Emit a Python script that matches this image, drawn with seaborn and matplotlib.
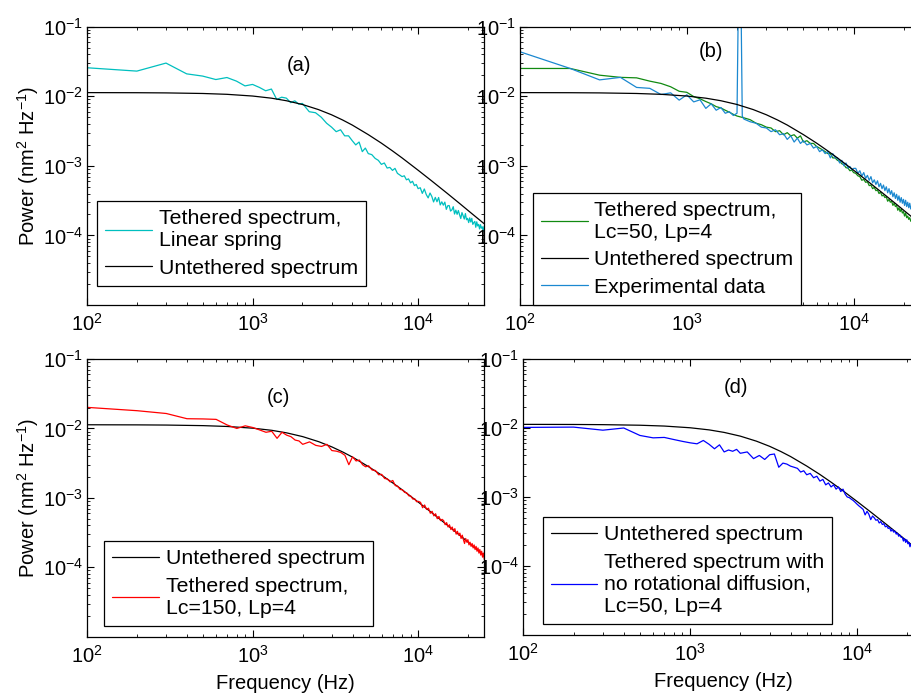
import matplotlib
matplotlib.use("Agg")
import matplotlib.pyplot as plt
import seaborn as sns
from matplotlib.ticker import LogLocator, NullFormatter

# ---------------- data ----------------
FREQ = [100, 200, 300, 400, 500, 600, 700, 800, 900, 1000,
        1100, 1200, 1300, 1400, 1500, 1600, 1700, 1800, 1900, 2000,
        2200, 2400, 2600, 2800, 3000, 3200, 3400, 3600, 3800, 4000,
        4200, 4400, 4600, 4800, 5000,
        5250, 5500, 5750, 6000, 6250, 6500, 6750, 7000, 7250, 7500,
        7750, 8000, 8250, 8500, 8750, 9000, 9250, 9500, 9750, 10000,
        10300, 10600, 10900, 11200, 11500, 11800, 12100, 12400, 12700, 13000,
        13300, 13600, 13900, 14200, 14500, 14800, 15100, 15400, 15700, 16000,
        16300, 16600, 16900, 17200, 17500, 17800, 18100, 18400, 18700, 19000,
        19300, 19600, 19900, 20200, 20500, 20800, 21100, 21400, 21700, 22000,
        22300, 22600, 22900, 23200, 23500, 23800, 24100, 24400, 24700, 25000]

FREQ_UNTETHERED = [100, 200, 300, 500, 700, 1000, 1300, 1600, 2000, 2500, 3000, 3500,
                   4000, 5000, 6000, 7000, 8000, 10000, 12000, 15000, 18000, 21000, 25000]
UNTETHERED = [0.01129, 0.01125, 0.01118, 0.01097, 0.01067, 0.01008, 0.00939, 0.00863,
              0.00762, 0.00644, 0.00542, 0.00456, 0.00386, 0.00281, 0.00212, 0.00164,
              0.00130, 0.000865, 0.000615, 0.000402, 0.000282, 0.000208, 0.000148]

TETHER_LINEAR_A = [
    .0257, .0230, .0300, .0210, .0195, .0174, .0186, .0165, .0141, .0148,
    .0134, .0120, .0127, .0090, .0097, .0094, .0081, .0086, .0077, .0079,
    .0060, .0058, .0050, .0041, .0036, .0031, .0033, .0027, .0027, .0023,
    .0020, .0022, .0016, .0018, .0015,
    .00145, .00128, .00120, .00105, .00110, .00093, .00095, .00086, .00092, .00078,
    .00074, .00070, .00072, .00063, .00065, .00057, .00060, .00052, .00054, .00047,
    .000485, .000402, .000465, .000387, .000346, .000407, .000363, .000303, .000352, .000305,
    .000351, .000274, .000304, .000272, .000301, .000237, .000267, .000269, .000224, .000233,
    .000259, .000203, .000231, .000201, .000228, .000198, .000175, .000213, .000192, .000172,
    .000206, .000168, .000176, .000153, .000179, .000156, .000176, .000144, .000153, .000159,
    .000131, .000157, .000137, .000144, .000124, .000143, .000127, .000133, .000114, .000134]

TETHER_WLC_B = [
    .0251, .0251, .0201, .0187, .0184, .0165, .0153, .0137, .0118, .0114,
    .0099, .0092, .0084, .0078, .0071, .0068, .0063, .0059, .0055, .0052,
    .0049, .0046, .0041, .0039, .0036, .0035, .0031, .0032, .0028, .0030,
    .0027, .0028, .0025, .0027, .0022,
    .0023, .0021, .0021, .0019, .0018, .0017, .0016, .0015, .0015, .0013,
    .0013, .0012, .00117, .00107, .00104, .00094, .00093, .00085, .00087, .00080,
    .00078, .00072, .00070, .00062, .00064, .00058, .00059, .00052, .00053, .00047,
    .00049, .00044, .00045, .00040, .00042, .00037, .00038, .00035, .00036, .00031,
    .00033, .00030, .00031, .00027, .00029, .00026, .00027, .00023, .00025, .00022,
    .00024, .00021, .00022, .00019, .00021, .00018, .00019, .00017, .00018, .00016,
    .00017, .00015, .00016, .00014, .00015, .00014, .00014, .00013, .00014, .00013]

FREQ_EXP = [100, 200, 300, 400, 500, 600, 700, 800, 900, 1000,
            1100, 1200, 1300, 1400, 1500, 1600, 1700, 1800, 1900, 2000,
            2050, 2100, 2150,
            2200, 2400, 2600, 2800, 3000, 3200, 3400, 3600, 3800, 4000,
            4200, 4400, 4600, 4800, 5000,
            5250, 5500, 5750, 6000, 6250, 6500, 6750, 7000, 7250, 7500,
            7750, 8000, 8250, 8500, 8750, 9000, 9250, 9500, 9750, 10000,
            10300, 10600, 10900, 11200, 11500, 11800, 12100, 12400, 12700, 13000,
            13300, 13600, 13900, 14200, 14500, 14800, 15100, 15400, 15700, 16000,
            16300, 16600, 16900, 17200, 17500, 17800, 18100, 18400, 18700, 19000,
            19300, 19600, 19900, 20200, 20500, 20800, 21100, 21400, 21700, 22000,
            22300, 22600, 22900, 23200, 23500, 23800, 24100, 24400, 24700, 25000]
EXPERIMENT_B = [
    .0436, .0251, .0172, .0187, .0134, .0130, .0106, .0112, .0088, .0105,
    .0083, .0089, .0067, .0078, .0063, .0069, .0057, .0060, .0053, .0057,
    .9, .9, .0052,
    .0047, .0043, .0041, .0036, .0035, .0031, .0033, .0028, .0029, .0024,
    .0027, .0022, .0025, .0021, .0023,
    .0020, .0021, .0018, .0019, .0016, .0017, .0015, .0016, .0013, .0015,
    .0013, .0013, .0011, .0012, .0010, .0011, .00093, .00098, .00088, .00092,
    .00092, .00078, .00085, .00071, .00080, .00066, .00073, .00062, .00070, .00057,
    .00063, .00054, .00061, .00050, .00056, .00047, .00053, .00044, .00050, .00041,
    .00047, .00039, .00044, .00036, .00041, .00034, .00039, .00032, .00037, .00030,
    .00035, .00029, .00033, .00027, .00032, .00026, .00030, .00025, .00029, .00024,
    .00027, .00023, .00026, .00022, .00025, .00021, .00024, .00020, .00023, .00019]

TETHER_WLC_C = [
    .0201, .0180, .0164, .0138, .0137, .0135, .0112, .0100, .0109, .0103,
    .0095, .0088, .0091, .0072, .0088, .0080, .0076, .0068, .0066, .0059,
    .0064, .0057, .0055, .0059, .0048, .0047, .0045, .0041, .0030, .0039,
    .0034, .0035, .0030, .0028, .0029,
    .00252, .00248, .00215, .00218, .00190, .00187, .00170, .00178, .00150, .00147,
    .00132, .00131, .00120, .00118, .00107, .00106, .00096, .00097, .00088, .00089,
    .00086, .00072, .00079, .00068, .00071, .00060, .00064, .00055, .00059, .00050,
    .00054, .00047, .00049, .00047, .00041, .00044, .00038, .00041, .00035, .00038,
    .00033, .00036, .00030, .00033, .00029, .00031, .00026, .00029, .00025, .00022,
    .00026, .00023, .00025, .00021, .00023, .00020, .00022, .00019, .00021, .00018,
    .00020, .00017, .00019, .00016, .00018, .00015, .00017, .00014, .00016, .00013]

TETHER_NOROT_D = [
    .0102, .0103, .0093, .0100, .0078, .0072, .0073, .0068, .0064, .0061,
    .0059, .0066, .0058, .0050, .0057, .0045, .0048, .0046, .0049, .0043,
    .0045, .0036, .0040, .0035, .0041, .0042, .0027, .0031, .0030, .0028,
    .0027, .0026, .0023, .0024, .0021,
    .0022, .0019, .0020, .0017, .0018, .0015, .0016, .0014, .0015, .0013,
    .0014, .0012, .0013, .0011, .0010, .00098, .00093, .00089, .00084, .00079,
    .00074, .00070, .00066, .00055, .00062, .00056, .00047, .00053, .00050, .00046,
    .00047, .00042, .00044, .00040, .00041, .00037, .00038, .00035, .00036, .00032,
    .00034, .00031, .00032, .00029, .00030, .00027, .00028, .00026, .00026, .00023,
    .00025, .00022, .00024, .00021, .00022, .00019, .00021, .00018, .00019, .00017,
    .00019, .00016, .00017, .00015, .00016, .00014, .00015, .00014, .00015, .00013]

PANEL_TAGS = ["(a)", "(b)", "(c)", "(d)"]
X_LIMITS = [100, 25000]
Y_LIMITS = [1e-5, 1e-1]

# ---------------- style ----------------
sns.set_theme(style="ticks")
plt.rcParams.update({
    "font.family": ["Liberation Sans", "DejaVu Sans"],
    "mathtext.fontset": "custom",
    "mathtext.rm": "Liberation Sans",
    "mathtext.it": "Liberation Sans:italic",
    "mathtext.bf": "Liberation Sans:bold",
    "axes.unicode_minus": False,
    "font.size": 14,
    "text.color": "black",
    "axes.linewidth": 0.9,
    "axes.edgecolor": "black",
    "axes.labelcolor": "black",
    "xtick.color": "black", "ytick.color": "black",
    "xtick.labelcolor": "black", "ytick.labelcolor": "black",
    "xtick.direction": "in", "ytick.direction": "in",
    "xtick.top": True, "ytick.right": True,
    "xtick.major.size": 5, "ytick.major.size": 5,
    "xtick.minor.size": 2.5, "ytick.minor.size": 2.5,
    "xtick.major.width": 0.8, "ytick.major.width": 0.8,
    "xtick.minor.width": 0.6, "ytick.minor.width": 0.6,
    "xtick.labelsize": 14.5, "ytick.labelsize": 14.5,
    "xtick.major.pad": 6, "ytick.major.pad": 3,
    "legend.labelcolor": "black",
})

C_BLACK = "black"
C_CYAN = "#00bfbf"
C_GREEN = "#118a11"
C_EXP = "#1b88d0"
C_RED = "#ff0000"
C_BLUE = "#0000ff"

fig = plt.figure(figsize=(9.11, 6.96), dpi=100)
W, H = 911.0, 696.0
rects = [
    (87 / W, 1 - 305 / H, 397 / W, 278.3 / H),
    (520 / W, 1 - 305 / H, 400 / W, 278.3 / H),
    (87.3 / W, 1 - 636.7 / H, 397 / W, 277.7 / H),
    (523.3 / W, 1 - 635 / H, 400 / W, 276 / H),
]
axes = [fig.add_axes(r) for r in rects]


def style_axis(ax):
    ax.set_xscale("log")
    ax.set_yscale("log")
    ax.set_xlim(*X_LIMITS)
    ax.set_ylim(*Y_LIMITS)
    ax.set_xticks([1e2, 1e3, 1e4])
    ax.set_yticks([1e-4, 1e-3, 1e-2, 1e-1])
    ax.xaxis.set_minor_locator(LogLocator(base=10, subs=range(2, 10), numticks=20))
    ax.yaxis.set_minor_locator(LogLocator(base=10, subs=range(2, 10), numticks=20))
    ax.xaxis.set_minor_formatter(NullFormatter())
    ax.yaxis.set_minor_formatter(NullFormatter())
    ax.tick_params(which="both", top=True, right=True, direction="in")
    for s in ax.spines.values():
        s.set_visible(True)
        s.set_color("black")
        s.set_linewidth(0.9)
    ax.set_xlabel("")
    ax.set_ylabel("")


def line(ax, x, y, color, label, lw=0.9):
    sns.lineplot(x=x, y=y, ax=ax, color=color, lw=lw, label=label,
                 estimator=None, sort=False, legend=False)


def add_legend(ax, order, anchor):
    lines = {l.get_label(): l for l in ax.get_lines()}
    handles = [lines[k] for k in order]
    leg = ax.legend(handles, order, loc="lower left", bbox_to_anchor=anchor,
                    frameon=True, fancybox=False, framealpha=1, edgecolor="black",
                    borderpad=0.38, handlelength=2.2, handletextpad=0.3,
                    labelspacing=0.4, borderaxespad=0, fontsize=15.3)
    leg.get_frame().set_linewidth(0.9)
    for t in leg.get_texts():
        t.set_color("black")


# (a)
ax = axes[0]
line(ax, FREQ, TETHER_LINEAR_A, C_CYAN, "Tethered spectrum,\nLinear spring")
line(ax, FREQ_UNTETHERED, UNTETHERED, C_BLACK, "Untethered spectrum")
style_axis(ax)
add_legend(ax, ["Tethered spectrum,\nLinear spring", "Untethered spectrum"], (0.026, 0.069))

# (b)
ax = axes[1]
line(ax, FREQ, TETHER_WLC_B, C_GREEN, "Tethered spectrum,\nLc=50, Lp=4")
line(ax, FREQ_EXP, EXPERIMENT_B, C_EXP, "Experimental data")
line(ax, FREQ_UNTETHERED, UNTETHERED, C_BLACK, "Untethered spectrum")
style_axis(ax)
add_legend(ax, ["Tethered spectrum,\nLc=50, Lp=4", "Untethered spectrum", "Experimental data"],
           (0.032, 0.0))

# (c)
ax = axes[2]
line(ax, FREQ_UNTETHERED, UNTETHERED, C_BLACK, "Untethered spectrum")
line(ax, FREQ, TETHER_WLC_C, C_RED, "Tethered spectrum,\nLc=150, Lp=4")
style_axis(ax)
add_legend(ax, ["Untethered spectrum", "Tethered spectrum,\nLc=150, Lp=4"], (0.043, 0.040))

# (d)
ax = axes[3]
line(ax, FREQ_UNTETHERED, UNTETHERED, C_BLACK, "Untethered spectrum")
line(ax, FREQ, TETHER_NOROT_D, C_BLUE,
     "Tethered spectrum with\nno rotational diffusion,\nLc=50, Lp=4")
style_axis(ax)
add_legend(ax, ["Untethered spectrum",
                "Tethered spectrum with\nno rotational diffusion,\nLc=50, Lp=4"], (0.048, 0.040))

# labels
for ax in (axes[0], axes[2]):
    ax.set_ylabel("Power (nm$^2$ Hz$^{-1}$)", fontsize=14.5, labelpad=1)
for ax in (axes[2], axes[3]):
    ax.set_xlabel("Frequency (Hz)", fontsize=14.5, labelpad=5)

tag_pos = [(0.535, 0.862), (0.477, 0.91), (0.482, 0.863), (0.532, 0.895)]
for ax, tag, (tx, ty) in zip(axes, PANEL_TAGS, tag_pos):
    ax.text(tx, ty, tag, transform=ax.transAxes, ha="center", va="center",
            fontsize=14.5, color="black")

fig.savefig("out.png", dpi=100, facecolor="white")
